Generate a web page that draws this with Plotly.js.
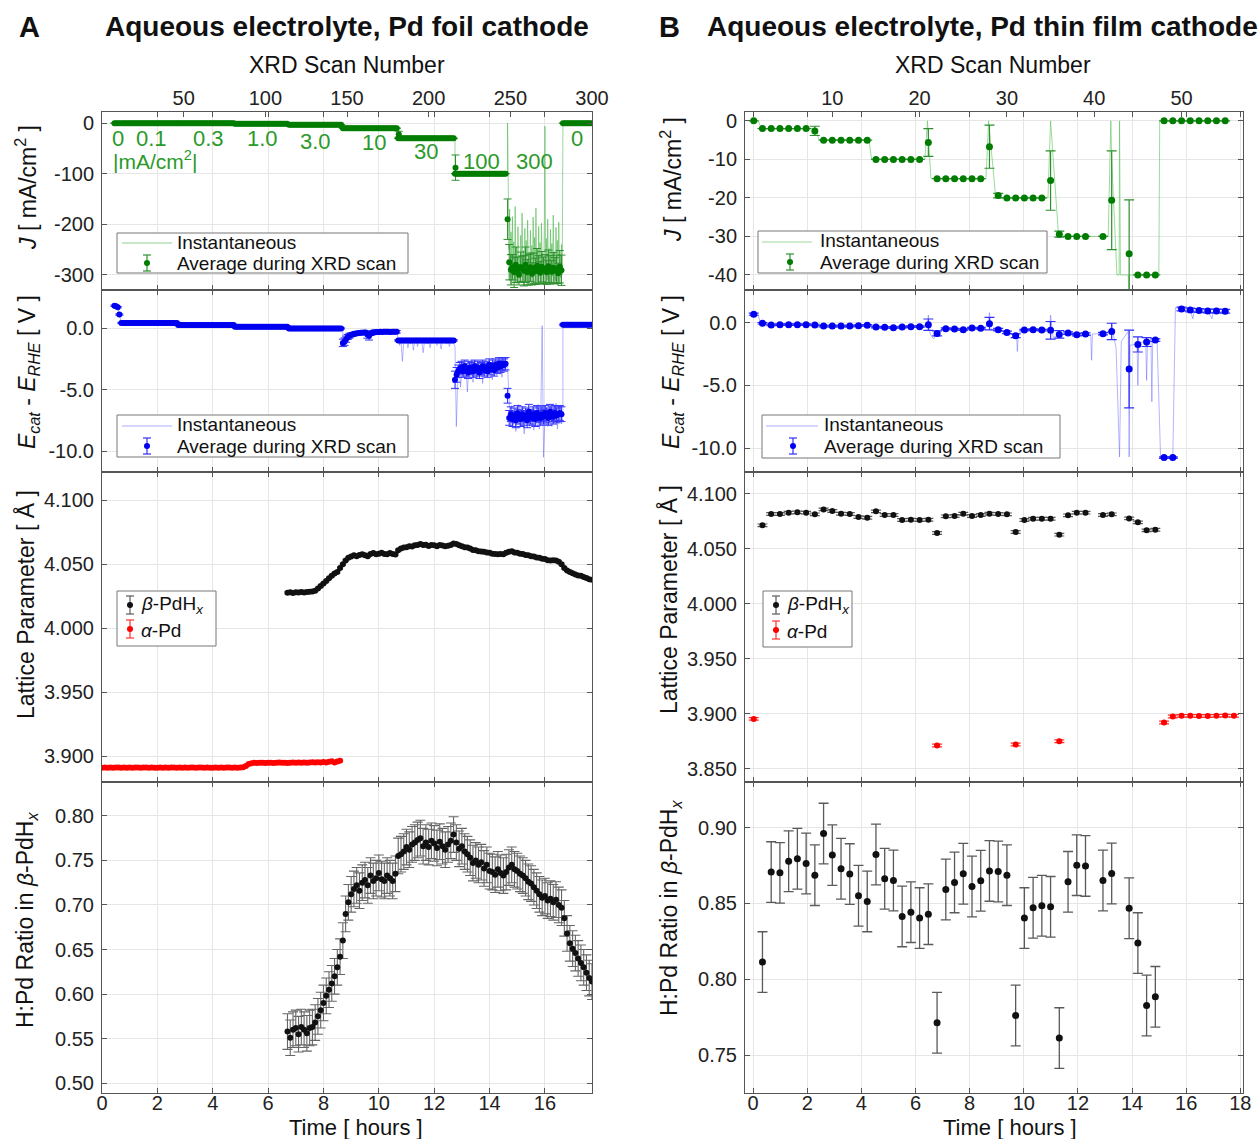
<!DOCTYPE html>
<html><head><meta charset="utf-8">
<script src="https://cdn.plot.ly/plotly-3.0.1.min.js"></script>
<style>html,body{margin:0;padding:0;background:#fff}#chart{width:1259px;height:1139px}</style>
</head><body><div id="chart"></div>
<script>
// ================= DATA: Panel A (Pd foil cathode) =================
const A_SCAN_HR = 17.7 / 300;               // hours per XRD scan
const A_seg_start = [0.45, 0.70, 2.75, 4.80, 6.75, 8.70, 10.70, 12.75, 14.65, 16.65];
const A_seg_end   = [0.70, 2.75, 4.80, 6.75, 8.70, 10.70, 12.75, 14.65, 16.65, 17.70];
const A_seg_label = ['0', '0.1', '0.3', '1.0', '3.0', '10', '30', '100', '300', '0'];
const A_J_level   = [0, -0.1, -0.3, -1, -3, -10, -30, -100, null, 0];
const A_E_level   = [null, 0.42, 0.25, 0.12, -0.03, null, -1.0, null, null, 0.28];

const A_J_avg_seg8 = [-190,-275,-290,-285,-295,-280,-290,-300,-285,-288,-292,-280,-295,-290,-285,-298,-287,-293,-282,-290,-296,-284,-291,-288,-295,-283,-290,-294,-286,-292,-289,-297,-284,-291];
const A_J_err_seg8 = [40,35,30,25,30,35,25,20,30,25,30,35,25,30,28,22,30,26,34,28,22,30,26,28,24,32,28,22,30,26,28,20,32,30];
const A_J_trans_t = [10.72, 12.77];
const A_J_trans_v = [-22, -88];
const A_J_trans_err = [6, 25];

const A_E_avg_seg0 = [1.82, 1.78, 1.70, 1.10];
const A_E_avg_seg5 = [-1.20,-1.10,-0.90,-0.72,-0.62,-0.55,-0.50,-0.46,-0.44,-0.42,-0.40,-0.38,-0.37,-0.36,-0.35,-0.52,-0.62,-0.45,-0.36,-0.34,-0.33,-0.32,-0.31,-0.30,-0.32,-0.30,-0.30,-0.29,-0.30,-0.31,-0.29,-0.30,-0.30,-0.30];
const A_E_err_seg5 = [0.3,0.3,0.25,0.2,0.2,0.15,0.15,0.1,0.1,0.1,0.1,0.1,0.1,0.1,0.1,0.3,0.35,0.15,0.1,0.1,0.1,0.1,0.1,0.1,0.1,0.1,0.1,0.1,0.1,0.1,0.1,0.1,0.1,0.1];
const A_E_avg_seg7 = [-4.2,-3.8,-3.5,-3.3,-3.2,-3.5,-3.1,-3.4,-3.6,-3.2,-3.3,-3.5,-3.1,-3.4,-3.2,-3.6,-3.3,-3.1,-3.4,-3.2,-3.5,-3.0,-3.3,-3.1,-3.4,-3.0,-3.2,-2.9,-3.1,-2.9,-3.0,-2.9];
const A_E_err_seg7 = [0.7,0.6,0.5,0.5,0.5,0.5,0.5,0.5,0.5,0.5,0.5,0.5,0.5,0.5,0.5,0.5,0.5,0.5,0.5,0.5,0.5,0.5,0.5,0.5,0.5,0.5,0.5,0.5,0.5,0.5,0.5,0.5];
const A_E_avg_seg8 = [-5.5,-7.3,-7.0,-7.4,-7.1,-7.5,-6.9,-7.2,-7.4,-7.0,-7.3,-7.1,-7.5,-6.8,-7.2,-7.3,-7.0,-7.4,-6.9,-7.1,-7.3,-7.0,-7.2,-6.9,-7.1,-7.3,-6.8,-7.0,-7.2,-6.9,-7.1,-7.0,-6.9,-7.0];
const A_E_err_seg8 = [0.6,0.6,0.6,0.6,0.6,0.6,0.6,0.6,0.6,0.6,0.6,0.6,0.6,0.6,0.6,0.6,0.6,0.6,0.6,0.6,0.6,0.6,0.6,0.6,0.6,0.6,0.6,0.6,0.6,0.6,0.6,0.6,0.6,0.6];

const A_J_INST_DT = 0.025;
const A_J_inst_seg8 = [0,-195,-250,-170,-305,-215,-320,-185,-270,-235,-310,-165,-290,-245,-318,-205,-282,-262,-306,-222,-296,-178,-288,-252,-322,-208,-302,-232,-312,-192,-276,-256,-316,-212,-292,-242,-306,-186,-272,-226,-298,-168,-284,-250,-314,-204,-290,-236,-318,-198,-278,-258,-304,-216,-6,-300,-228,-310,-190,-280,-248,-316,-210,-294,-238,-302,-182,-274,-254,-312,-206,-288,-232,-320,-196,-282,-260,-306,-240,-300];
const A_E_INST_DT = 0.05;
const A_E_inst_seg6 = [-1.0,-1.4,-0.9,-2.7,-1.1,-1.2,-0.9,-1.6,-1.0,-1.3,-0.9,-1.8,-1.0,-1.1,-1.5,-0.9,-1.2,-1.0,-2.0,-1.1,-0.9,-1.3,-1.0,-1.6,-1.1,-0.9,-1.2,-1.0,-1.4,-0.9,-1.1,-1.7,-1.0,-1.2,-0.9,-1.3,-1.0,-1.5,-1.1,-0.9,-1.2];
const A_E_inst_seg7 = [-1.5,-8.0,-4.2,-3.0,-4.8,-3.4,-2.8,-4.0,-3.2,-5.2,-3.0,-3.8,-2.6,-4.4,-3.3,-3.0,-4.1,-2.9,-3.6,-3.1,-4.5,-2.8,-3.4,-3.9,-2.7,-3.5,-3.2,-4.2,-2.9,-3.3,-3.8,-2.6,-3.5,-3.1,-4.0,-2.8,-3.3,-3.0,-2.9];
const A_E_inst_seg8 = [-3.0,-5.5,-8.0,-6.3,-7.9,-6.6,-8.4,-7.0,-6.2,-8.1,-7.3,-6.5,-8.6,-6.9,-7.6,-6.3,-8.0,-7.1,-6.4,-8.3,-6.8,-7.7,-6.2,-8.2,-7.0,0.2,-10.5,-7.2,-6.4,-8.0,-7.5,-6.6,-8.0,-6.9,-7.4,-6.1,-8.2,-7.0,-6.5,-7.8,-7.2];

const A_LAT_T0 = 6.7, A_LAT_DT = 0.1;
const A_beta_lat = [
 4.0278,4.0282,4.0276,4.0281,4.0279,4.0284,4.0280,4.0283,4.0285,4.0288,
 4.0293,4.0310,4.0330,4.0350,4.0370,4.0390,4.0410,4.0428,4.0440,4.0470,
 4.0500,4.0530,4.0550,4.0560,4.0570,4.0562,4.0572,4.0578,4.0570,4.0563,
 4.0580,4.0588,4.0578,4.0582,4.0590,4.0580,4.0578,4.0588,4.0580,4.0576,
 4.0610,4.0622,4.0630,4.0632,4.0640,4.0638,4.0648,4.0650,4.0658,4.0650,
 4.0652,4.0642,4.0650,4.0648,4.0640,4.0650,4.0646,4.0640,4.0644,4.0650,
 4.0662,4.0658,4.0648,4.0640,4.0632,4.0630,4.0622,4.0612,4.0610,4.0602,
 4.0600,4.0598,4.0592,4.0590,4.0582,4.0580,4.0578,4.0580,4.0578,4.0590,
 4.0598,4.0602,4.0592,4.0590,4.0582,4.0580,4.0572,4.0570,4.0562,4.0560,
 4.0552,4.0550,4.0542,4.0540,4.0532,4.0530,4.0532,4.0530,4.0520,4.0500,
 4.0470,4.0452,4.0440,4.0430,4.0420,4.0412,4.0410,4.0400,4.0392,4.0382,4.0378];
const A_hpd = [
 0.558,0.551,0.560,0.562,0.555,0.563,0.560,0.556,0.562,0.563,
 0.568,0.575,0.582,0.590,0.598,0.605,0.612,0.620,0.630,0.642,
 0.660,0.690,0.703,0.712,0.718,0.722,0.716,0.725,0.728,0.722,
 0.733,0.727,0.730,0.736,0.729,0.727,0.733,0.730,0.727,0.735,
 0.755,0.757,0.760,0.765,0.762,0.768,0.770,0.773,0.775,0.766,
 0.770,0.765,0.772,0.769,0.764,0.771,0.766,0.762,0.768,0.772,
 0.779,0.770,0.763,0.766,0.760,0.757,0.753,0.747,0.750,0.745,
 0.748,0.741,0.745,0.738,0.737,0.734,0.740,0.736,0.733,0.737,
 0.742,0.745,0.740,0.738,0.735,0.733,0.730,0.726,0.724,0.720,
 0.716,0.712,0.708,0.710,0.705,0.707,0.703,0.706,0.700,0.697,
 0.685,0.668,0.657,0.651,0.646,0.640,0.635,0.630,0.624,0.618,0.614];
const A_ALPHA_T0 = 0.0, A_ALPHA_DT = 0.1;
const A_alpha_lat = [
 3.8912,3.8914,3.8911,3.8913,3.8912,3.8914,3.8913,3.8911,3.8913,3.8912,
 3.8913,3.8912,3.8914,3.8913,3.8911,3.8913,3.8914,3.8912,3.8913,3.8912,
 3.8912,3.8914,3.8911,3.8913,3.8912,3.8914,3.8913,3.8911,3.8913,3.8912,
 3.8913,3.8912,3.8914,3.8913,3.8911,3.8913,3.8914,3.8912,3.8913,3.8912,
 3.8912,3.8914,3.8911,3.8913,3.8912,3.8914,3.8913,3.8911,3.8913,3.8912,
 3.8913,3.8915,3.8925,3.8940,3.8947,3.8950,3.8949,3.8951,3.8950,3.8949,
 3.8950,3.8951,3.8949,3.8950,3.8952,3.8950,3.8951,3.8949,3.8951,3.8952,
 3.8951,3.8952,3.8950,3.8953,3.8951,3.8952,3.8954,3.8952,3.8955,3.8953,
 3.8956,3.8952,3.8958,3.8962,3.8953,3.8960,3.8966];

// ================= DATA: Panel B (Pd thin film cathode) =================
const B_SCAN_HR = 1 / 3.1, B_SCAN_OFFSET = 0.93;   // time = (scan - offset) * hours per scan
const B_scan_el = [1,2,3,4,5,6,7,8,9,10,11,12,13,14,15,16,17,18,19,20,21,22,23,24,25,26,27,28,29,30,31,32,33,34,35,36,37,38,39,41,42,44,45,46,47,48,49,50,51,52,53,54,55];
const B_J_avg = [0,-2,-2,-2,-2,-2,-2,-2.6,-5,-5,-5,-5,-5,-5,-10,-10,-10,-10,-10,-10,-5.6,-15,-15,-15,-15,-15,-15,-6.7,-19.4,-20,-20,-20,-20,-20,-15.5,-29.4,-30,-30,-30,-30,-20.6,-34.5,-40,-40,-40,0,0,0,0,0,0,0,0];
const B_J_err = [0,0,0,0,0,0,0,1.2,0,0,0,0,0,0,0,0,0,0,0,0,3.6,0,0,0,0,0,0,5.6,0.6,0,0,0,0,0,7.7,0.8,0,0,0,0,12.8,14,0,0,0,0,0,0,0,0,0,0,0];
const B_E_avg = [0.67,-0.05,-0.19,-0.16,-0.16,-0.16,-0.16,-0.19,-0.27,-0.27,-0.27,-0.27,-0.24,-0.21,-0.35,-0.37,-0.40,-0.35,-0.32,-0.32,-0.16,-0.86,-0.48,-0.51,-0.56,-0.43,-0.45,-0.08,-0.56,-0.78,-1.04,-0.59,-0.56,-0.59,-0.61,-0.94,-0.83,-0.96,-0.91,-0.88,-0.70,-3.69,-1.74,-1.55,-1.39,-10.75,-10.75,1.08,1.00,0.96,0.93,0.92,0.90];
const B_E_err = [0.08,0.06,0.06,0.06,0.06,0.06,0.06,0.06,0.06,0.06,0.06,0.06,0.06,0.06,0.06,0.06,0.06,0.06,0.06,0.06,0.45,0.2,0.06,0.06,0.06,0.06,0.06,0.5,0.1,0.1,0.15,0.06,0.06,0.06,0.7,0.3,0.1,0.1,0.1,0.1,0.65,3.1,0.6,0.35,0.1,0.06,0.06,0.15,0.15,0.15,0.15,0.15,0.15];
const B_J_inst_scan = [1,1.5,1.9,7.8,8.2,8.5,14.2,14.5,20.6,20.9,21.3,27.6,27.9,28.7,29.2,34.7,35.0,35.9,36.3,41.6,41.9,42.0,42.6,42.85,42.9,43.0,43.9,44.0,44.05,47.4,47.5,55.3];
const B_J_inst_val  = [0,0,-2,-2,-3,-5,-5,-10,-10,0,-15,-15,0,-19.4,-20,-20,0,-29.4,-30,-30,0,-10,-40,-40,0,-40,-40,-50,-40,-40,0,0];
const B_E_inst_scan = [1,1.5,1.8,2,3,7,8,9,14,15,20,20.9,21,21.2,21.6,22,23,27,27.9,28,28.2,29,30,31,31.1,31.2,31.3,32,34,34.9,35,35.3,36,37,38,39,39.6,39.7,39.8,41,41.8,42,42.2,42.5,42.9,43.1,43.9,44,44.1,44.9,45,45.1,45.9,46,46.1,46.5,46.6,46.7,47.2,47.6,48,49,49.3,50,51,51.3,51.4,52,53,53.5,53.6,54,55];
const B_E_inst_val  = [0.67,0.6,-0.05,-0.05,-0.19,-0.16,-0.19,-0.27,-0.21,-0.35,-0.32,-0.3,0.6,-0.9,-1.3,-0.86,-0.48,-0.45,-0.2,0.8,-0.6,-0.56,-0.78,-1.04,-1.0,-2.3,-0.9,-0.59,-0.59,-0.5,0.6,-1.2,-0.94,-0.83,-0.96,-0.91,-0.95,-3.0,-0.9,-0.88,-0.8,-0.1,-1.0,-2.0,-10.7,-1.5,-0.7,-10.7,-1.8,-1.7,-5.0,-1.6,-1.5,-4.6,-1.5,-1.4,-6.3,-1.4,-1.4,-10.75,-10.75,-10.75,1.2,1.05,0.95,0.3,0.95,0.9,0.9,0.3,0.9,0.85,0.85];
const B_scan_beta = [2,3,4,5,6,7,8,9,10,11,12,13,14,15,16,17,18,19,20,21,22,23,24,25,26,27,28,29,30,31,32,33,34,35,36,37,38,39,41,42,44,45,46,47];
const B_beta_lat = [4.0715,4.0818,4.0818,4.0830,4.0833,4.0830,4.0815,4.0860,4.0845,4.0820,
 4.0818,4.0790,4.0784,4.0842,4.0809,4.0809,4.0763,4.0766,4.0763,4.0766,
 4.0645,4.0797,4.0800,4.0820,4.0800,4.0809,4.0820,4.0818,4.0815,4.0654,
 4.0763,4.0775,4.0775,4.0775,4.0630,4.0806,4.0830,4.0830,
 4.0809,4.0815,4.0778,4.0742,4.0669,4.0675];
const B_hpd = [0.8113,0.8706,0.8701,0.8778,0.8794,0.8763,0.8686,0.8960,0.8818,0.8728,
 0.8693,0.8550,0.8513,0.8822,0.8662,0.8651,0.8414,0.8442,0.8403,0.8429,
 0.7713,0.8591,0.8638,0.8695,0.8611,0.8649,0.8714,0.8710,0.8686,0.7761,
 0.8403,0.8471,0.8484,0.8477,0.7612,0.8642,0.8752,0.8747,
 0.8651,0.8697,0.8468,0.8238,0.7827,0.7884];
const B_scan_alpha = [1,22,31,36,48,49,50,51,52,53,54,55,56];
const B_alpha_lat = [3.8954,3.8712,3.8721,3.8751,3.8921,3.8976,3.8982,3.8982,3.8980,3.8980,3.8982,3.8984,3.8982];

// ================= BUILD SERIES =================
function buildAvg(levels, explicitVals, explicitErr, defErr) {
  const t = [], v = [], e = [];
  for (let i = 0; i < A_seg_start.length; i++) {
    let vals = explicitVals[i];
    const errs = explicitErr[i];
    if (!vals) {
      const n = Math.round((A_seg_end[i] - A_seg_start[i]) / A_SCAN_HR);
      vals = new Array(n).fill(levels[i]);
    }
    vals.forEach((val, k) => { t.push(A_seg_start[i] + k * A_SCAN_HR); v.push(val); e.push(errs ? errs[k] : defErr); });
  }
  return { t, v, e };
}
function buildInst(levels, instVals, dt, avgVals) {
  const t = [], v = [];
  for (let i = 0; i < A_seg_start.length; i++) {
    if (instVals[i]) {
      instVals[i].forEach((val, k) => { t.push(A_seg_start[i] + k * dt); v.push(val); });
    } else if (avgVals[i]) {
      avgVals[i].forEach((val, k) => { t.push(A_seg_start[i] + k * A_SCAN_HR); v.push(val); });
    } else {
      t.push(A_seg_start[i], A_seg_end[i]); v.push(levels[i], levels[i]);
    }
  }
  return { t, v };
}
const A_Javg = buildAvg(A_J_level, { 8: A_J_avg_seg8 }, { 8: A_J_err_seg8 }, 0);
A_J_trans_t.forEach((tt, k) => { A_Javg.t.push(tt); A_Javg.v.push(A_J_trans_v[k]); A_Javg.e.push(A_J_trans_err[k]); });
const A_Eavg = buildAvg(A_E_level, { 0: A_E_avg_seg0, 5: A_E_avg_seg5, 7: A_E_avg_seg7, 8: A_E_avg_seg8 },
                        { 5: A_E_err_seg5, 7: A_E_err_seg7, 8: A_E_err_seg8 }, 0.05);
const A_Jinst = buildInst(A_J_level, { 8: A_J_inst_seg8 }, A_J_INST_DT, {});
const A_Einst = buildInst(A_E_level, { 6: A_E_inst_seg6, 7: A_E_inst_seg7, 8: A_E_inst_seg8 }, A_E_INST_DT,
                          { 0: A_E_avg_seg0, 5: A_E_avg_seg5 });
const A_lat_t = A_beta_lat.map((_, k) => A_LAT_T0 + k * A_LAT_DT);
const A_alpha_t = A_alpha_lat.map((_, k) => A_ALPHA_T0 + k * A_ALPHA_DT);
const bT = s => (s - B_SCAN_OFFSET) * B_SCAN_HR;

// ================= STYLE =================
const W = 1259, H = 1139;
const PX = v => v / W, PY = v => 1 - v / H;
const FONT = 'Liberation Sans, Arial, Helvetica, sans-serif';
const GREEN = '#007d00', GREEN_ERR = '#2f8f2f', GREEN_INST = 'rgba(70,180,70,0.55)';
const BLUE = '#0000f0', BLUE_ERR = '#3030ff', BLUE_INST = 'rgba(90,90,255,0.45)';
const GRAY_ERR = '#5a5a5a';

const traces = [];
function add(tr) { traces.push(Object.assign({ hoverinfo: 'skip', showlegend: false, cliponaxis: true }, tr)); }

// ---- Column A ----
add({ x: A_Jinst.t, y: A_Jinst.v, xaxis: 'x', yaxis: 'y', mode: 'lines', line: { color: GREEN_INST, width: 1 }, name: 'Instantaneous' });
add({ x: A_Javg.t, y: A_Javg.v, xaxis: 'x', yaxis: 'y', mode: 'markers', marker: { color: GREEN, size: 6 },
      error_y: { type: 'data', array: A_Javg.e, color: GREEN_ERR, thickness: 1, width: 4 }, name: 'Average during XRD scan' });
add({ x: A_Einst.t, y: A_Einst.v, xaxis: 'x2', yaxis: 'y2', mode: 'lines', line: { color: BLUE_INST, width: 1 }, name: 'Instantaneous' });
add({ x: A_Eavg.t, y: A_Eavg.v, xaxis: 'x2', yaxis: 'y2', mode: 'markers', marker: { color: BLUE, size: 6 },
      error_y: { type: 'data', array: A_Eavg.e, color: BLUE_ERR, thickness: 1, width: 4 }, name: 'Average during XRD scan' });
add({ x: A_lat_t, y: A_beta_lat, xaxis: 'x3', yaxis: 'y3', mode: 'markers', marker: { color: '#111', size: 6 },
      error_y: { type: 'constant', value: 0.0008, color: GRAY_ERR, thickness: 1, width: 3 }, name: 'β-PdHx' });
add({ x: A_alpha_t, y: A_alpha_lat, xaxis: 'x3', yaxis: 'y3', mode: 'markers', marker: { color: '#ff0000', size: 6 },
      error_y: { type: 'constant', value: 0.0006, color: '#ff3030', thickness: 1, width: 3 }, name: 'α-Pd' });
add({ x: A_lat_t, y: A_hpd, xaxis: 'x4', yaxis: 'y4', mode: 'markers', marker: { color: '#111', size: 6 },
      error_y: { type: 'constant', value: 0.02, color: '#666', thickness: 1.1, width: 5 }, name: 'H:Pd' });
add({ x: [0, 300], y: [null, null], xaxis: 'x9', yaxis: 'y', mode: 'markers' });

// ---- Column B ----
add({ x: B_J_inst_scan.map(bT), y: B_J_inst_val, xaxis: 'x5', yaxis: 'y5', mode: 'lines', line: { color: 'rgba(90,195,90,0.6)', width: 1 }, name: 'Instantaneous' });
add({ x: B_scan_el.map(bT), y: B_J_avg, xaxis: 'x5', yaxis: 'y5', mode: 'markers', marker: { color: GREEN, size: 7 },
      error_y: { type: 'data', array: B_J_err, color: GREEN_ERR, thickness: 1.2, width: 5 }, name: 'Average during XRD scan' });
add({ x: B_E_inst_scan.map(bT), y: B_E_inst_val, xaxis: 'x6', yaxis: 'y6', mode: 'lines', line: { color: BLUE_INST, width: 1 }, name: 'Instantaneous' });
add({ x: B_scan_el.map(bT), y: B_E_avg, xaxis: 'x6', yaxis: 'y6', mode: 'markers', marker: { color: BLUE, size: 7 },
      error_y: { type: 'data', array: B_E_err, color: BLUE_ERR, thickness: 1.2, width: 5 }, name: 'Average during XRD scan' });
add({ x: B_scan_beta.map(bT), y: B_beta_lat, xaxis: 'x7', yaxis: 'y7', mode: 'markers', marker: { color: '#111', size: 6 },
      error_y: { type: 'constant', value: 0.0012, color: GRAY_ERR, thickness: 1.2, width: 5 }, name: 'β-PdHx' });
add({ x: B_scan_alpha.map(bT), y: B_alpha_lat, xaxis: 'x7', yaxis: 'y7', mode: 'markers', marker: { color: '#ff0000', size: 6 },
      error_y: { type: 'constant', value: 0.0012, color: '#ff3030', thickness: 1.2, width: 5 }, name: 'α-Pd' });
add({ x: B_scan_beta.map(bT), y: B_hpd, xaxis: 'x8', yaxis: 'y8', mode: 'markers', marker: { color: '#111', size: 7 },
      error_y: { type: 'constant', value: 0.02, color: GRAY_ERR, thickness: 1.3, width: 5 }, name: 'H:Pd' });
add({ x: [0, 57], y: [null, null], xaxis: 'x10', yaxis: 'y5', mode: 'markers' });

// ================= LAYOUT =================
const DOM_A = [PX(102), PX(592)], DOM_B = [PX(745), PX(1243)];
const ROWS = [[PY(290), PY(112)], [PY(472), PY(290)], [PY(782), PY(472)], [PY(1093), PY(782)]];
const TICKFONT = { family: FONT, size: 20, color: '#222' };
const axBase = { showline: true, linecolor: '#555', linewidth: 1, mirror: 'ticks', ticks: 'inside', ticklen: 5,
                 tickcolor: '#555', gridcolor: '#e6e6e6', gridwidth: 1, zeroline: false, tickfont: TICKFONT, fixedrange: true };
function xAx(dom, anchor, range, tickvals, labels) {
  return Object.assign({}, axBase, { domain: dom, anchor, range, tickmode: 'array', tickvals, ticktext: tickvals.map(String),
    showticklabels: labels, ticklabelstandoff: -8 });
}
function yAx(dom, anchor, range, tickvals, ticktext) {
  return Object.assign({}, axBase, { domain: dom, anchor, range, tickmode: 'array', tickvals, ticktext, ticklabelstandoff: 3 });
}
const A_xt = [0, 2, 4, 6, 8, 10, 12, 14, 16];
const B_xt = [0, 2, 4, 6, 8, 10, 12, 14, 16, 18];
const A_XR = [0, 17.7], B_XR = [-0.3, 18.1];

const annFont = (s, c) => ({ family: FONT, size: s, color: c || '#111' });
const annotations = [];
const shapes = [];
function note(text, x, y, opts) {
  annotations.push(Object.assign({ text, x: PX(x), y: PY(y), xref: 'paper', yref: 'paper', showarrow: false,
    xanchor: 'center', yanchor: 'middle', font: annFont(23) }, opts || {}));
}
note('<b>A</b>', 29, 27, { font: annFont(29) });
note('<b>Aqueous electrolyte, Pd foil cathode</b>', 347, 27, { font: annFont(28) });
note('<b>B</b>', 669, 27, { font: annFont(29) });
note('<b>Aqueous electrolyte, Pd thin film cathode</b>', 705, 27, { xanchor: 'left', font: annFont(28) });
note('XRD Scan Number', 347, 65);
note('XRD Scan Number', 993, 65);
note('Time [ hours ]', 356, 1127, { font: annFont(22) });
note('Time [ hours ]', 1010, 1127, { font: annFont(22) });
// y titles
note('<i>J</i> [ mA/cm<sup>2</sup> ]', 26, 188, { textangle: -90 });
note('<i>E<sub>cat</sub></i> - <i>E<sub>RHE</sub></i> [ V ]', 29, 372, { textangle: -90 });
note('Lattice Parameter [ Å ]', 25, 605, { textangle: -90 });
note('H:Pd Ratio in <i>β</i>-PdH<sub><i>x</i></sub>', 26, 920, { textangle: -90 });
note('<i>J</i> [ mA/cm<sup>2</sup> ]', 671, 180, { textangle: -90 });
note('<i>E<sub>cat</sub></i> - <i>E<sub>RHE</sub></i> [ V ]', 673, 372, { textangle: -90 });
note('Lattice Parameter [ Å ]', 668, 600, { textangle: -90 });
note('H:Pd Ratio in <i>β</i>-PdH<sub><i>x</i></sub>', 670, 908, { textangle: -90 });
// current density step labels (data coordinates of panel A, J plot)
const A_lbl_pos = [[0.58, -31], [1.77, -31], [3.83, -31], [5.78, -31], [7.73, -37], [9.82, -39], [11.70, -57], [13.72, -75], [15.63, -75], [17.15, -31]];
A_seg_label.forEach((lab, i) => {
  annotations.push({ text: lab, x: A_lbl_pos[i][0], y: A_lbl_pos[i][1], xref: 'x', yref: 'y', showarrow: false,
                     font: annFont(22, '#2a9a2a'), xanchor: 'center', yanchor: 'middle' });
});
annotations.push({ text: '|mA/cm<sup>2</sup>|', x: 1.91, y: -73, xref: 'x', yref: 'y', showarrow: false,
                   font: annFont(21, '#2a9a2a'), xanchor: 'center', yanchor: 'middle' });

// ---- legend boxes drawn by hand (paper coordinates) ----
function pshape(o) { shapes.push(Object.assign({ xref: 'paper', yref: 'paper', layer: 'above' }, o)); }
function legBox(x0, y0, x1, y1) {
  pshape({ type: 'rect', x0: PX(x0), x1: PX(x1), y0: PY(y1), y1: PY(y0), fillcolor: '#fff', line: { color: '#777', width: 1 } });
}
function legLine(xa, xb, y, color) {
  pshape({ type: 'line', x0: PX(xa), x1: PX(xb), y0: PY(y), y1: PY(y), line: { color, width: 1.2 } });
}
function legMarker(x, y, color, errColor, half) {
  pshape({ type: 'line', x0: PX(x), x1: PX(x), y0: PY(y - half), y1: PY(y + half), line: { color: errColor, width: 1.2 } });
  pshape({ type: 'line', x0: PX(x - 4), x1: PX(x + 4), y0: PY(y - half), y1: PY(y - half), line: { color: errColor, width: 1.2 } });
  pshape({ type: 'line', x0: PX(x - 4), x1: PX(x + 4), y0: PY(y + half), y1: PY(y + half), line: { color: errColor, width: 1.2 } });
  pshape({ type: 'circle', x0: PX(x - 3), x1: PX(x + 3), y0: PY(y + 3), y1: PY(y - 3), fillcolor: color, line: { color, width: 0 } });
}
function legText(text, x, y) {
  annotations.push({ text, x: PX(x), y: PY(y), xref: 'paper', yref: 'paper', showarrow: false, xanchor: 'left', yanchor: 'middle',
                     font: annFont(19, '#111') });
}
// A: J
legBox(117, 233, 408, 273); legLine(122, 172, 243, 'rgba(70,180,70,0.6)'); legText('Instantaneous', 175, 242);
legMarker(147, 263, GREEN, GREEN_ERR, 8); legText('Average during XRD scan', 175, 263);
// A: E
legBox(117, 415, 408, 457); legLine(122, 172, 426, 'rgba(90,90,255,0.5)'); legText('Instantaneous', 175, 425);
legMarker(147, 446, BLUE, BLUE_ERR, 8); legText('Average during XRD scan', 175, 446);
// A: lattice
legBox(117, 591, 216, 646); legMarker(130, 605, '#111', GRAY_ERR, 9); legText('<i>β</i>-PdH<sub><i>x</i></sub>', 139, 605);
legMarker(130, 629, '#ff0000', '#ff3030', 9); legText('<i>α</i>-Pd', 139, 630);
// B: J
legBox(758, 231, 1047, 273); legLine(762, 812, 242, 'rgba(90,195,90,0.6)'); legText('Instantaneous', 818, 241);
legMarker(790, 262, GREEN, GREEN_ERR, 8); legText('Average during XRD scan', 818, 262);
// B: E
legBox(762, 415, 1060, 458); legLine(766, 818, 426, 'rgba(90,90,255,0.5)'); legText('Instantaneous', 822, 425);
legMarker(793, 446, BLUE, BLUE_ERR, 8); legText('Average during XRD scan', 822, 446);
// B: lattice
legBox(763, 591, 852, 647); legMarker(776, 605, '#111', GRAY_ERR, 9); legText('<i>β</i>-PdH<sub><i>x</i></sub>', 785, 605);
legMarker(776, 630, '#ff0000', '#ff3030', 9); legText('<i>α</i>-Pd', 785, 631);

const layout = {
  width: W, height: H, margin: { l: 0, r: 0, t: 0, b: 0, pad: 0 },
  paper_bgcolor: '#fff', plot_bgcolor: '#fff', font: { family: FONT, size: 20, color: '#111' },
  showlegend: false, hovermode: false,
  // column A
  xaxis:  xAx(DOM_A, 'y',  A_XR, A_xt, false),
  xaxis2: xAx(DOM_A, 'y2', A_XR, A_xt, false),
  xaxis3: xAx(DOM_A, 'y3', A_XR, A_xt, false),
  xaxis4: xAx(DOM_A, 'y4', A_XR, A_xt, true),
  xaxis9: Object.assign({}, axBase, { overlaying: 'x', anchor: 'y', side: 'top', range: [0, 300], tickmode: 'array',
           tickvals: [50, 100, 150, 200, 250, 300], showgrid: false, mirror: false, showline: false, ticklabelstandoff: 2 }),
  yaxis:  yAx(ROWS[0], 'x',  [-330, 22], [-300, -200, -100, 0], ['-300', '-200', '-100', '0']),
  yaxis2: yAx(ROWS[1], 'x2', [-11.7, 3.1], [-10, -5, 0], ['-10.0', '-5.0', '0.0']),
  yaxis3: yAx(ROWS[2], 'x3', [3.880, 4.122], [3.9, 3.95, 4.0, 4.05, 4.1], ['3.900', '3.950', '4.000', '4.050', '4.100']),
  yaxis4: yAx(ROWS[3], 'x4', [0.489, 0.838], [0.5, 0.55, 0.6, 0.65, 0.7, 0.75, 0.8], ['0.50', '0.55', '0.60', '0.65', '0.70', '0.75', '0.80']),
  // column B
  xaxis5: xAx(DOM_B, 'y5', B_XR, B_xt, false),
  xaxis6: xAx(DOM_B, 'y6', B_XR, B_xt, false),
  xaxis7: xAx(DOM_B, 'y7', B_XR, B_xt, false),
  xaxis8: xAx(DOM_B, 'y8', B_XR, B_xt, true),
  xaxis10: Object.assign({}, axBase, { overlaying: 'x5', anchor: 'y5', side: 'top', range: [0, 57.04], tickmode: 'array',
           tickvals: [10, 20, 30, 40, 50], showgrid: false, mirror: false, showline: false, ticklabelstandoff: 2 }),
  yaxis5: yAx(ROWS[0], 'x5', [-43.9, 2.3], [-40, -30, -20, -10, 0], ['-40', '-30', '-20', '-10', '0']),
  yaxis6: yAx(ROWS[1], 'x6', [-11.9, 2.6], [-10, -5, 0], ['-10.0', '-5.0', '0.0']),
  yaxis7: yAx(ROWS[2], 'x7', [3.838, 4.12], [3.85, 3.9, 3.95, 4.0, 4.05, 4.1], ['3.850', '3.900', '3.950', '4.000', '4.050', '4.100']),
  yaxis8: yAx(ROWS[3], 'x8', [0.725, 0.930], [0.75, 0.8, 0.85, 0.9], ['0.75', '0.80', '0.85', '0.90']),
  annotations, shapes
};
Plotly.newPlot('chart', traces, layout, { staticPlot: true, displayModeBar: false });
</script>
</body></html>
